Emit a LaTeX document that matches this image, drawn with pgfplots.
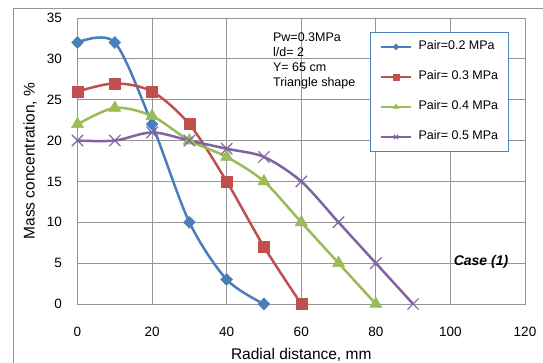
\documentclass[border=0pt]{standalone}
\usepackage{fontspec}
\setmainfont{Liberation Sans}
\usepackage{pgfplots}
\pgfplotsset{compat=1.18}
\definecolor{cblue}{HTML}{4A7EBB}
\definecolor{cred}{HTML}{C0504D}
\definecolor{cgreen}{HTML}{9BBB59}
\definecolor{cpurple}{HTML}{8064A2}
\definecolor{legblue}{HTML}{4F81BD}
\definecolor{gridgray}{HTML}{969696}
\pgfplotsset{mylegimg/.style={legend image code/.code={\draw[##1, line width=1.2pt, mark size=3pt, mark repeat=2, mark phase=2] plot coordinates {(0pt,0pt) (15pt,0pt) (30pt,0pt)};}}}
\begin{document}
\begin{tikzpicture}
\path[use as bounding box] (-77.5pt,-59pt) rectangle (465.5pt,304pt);
\draw[gridgray, line width=0.8pt] (-64.5pt,-70pt) -- (-64.5pt,296pt) -- (470pt,296pt);
\begin{axis}[
  scale only axis,
  width=447.5pt, height=286pt,
  xmin=0, xmax=120, ymin=0, ymax=35,
  xtick={0,20,...,120}, ytick={0,5,...,35},
  grid=major,
  major grid style={gridgray, line width=0.8pt},
  axis line style={gridgray, line width=0.8pt},
  major tick length=0pt,
  clip=false,
  /pgf/number format/assume math mode=true,
  tick label style={font=\fontsize{13.5}{15}\selectfont},
  yticklabel style={anchor=east, inner sep=0pt, xshift=-15.5pt},
  xticklabel style={anchor=north, inner sep=0pt, yshift=-23pt},
  xlabel={Radial distance, mm},
  ylabel={Mass concentration, \%},
  label style={font=\fontsize{15.5}{17}\selectfont},
  xlabel style={at={(axis description cs:0.5,-0.178)}, anchor=center, inner sep=0pt},
  ylabel style={at={(axis description cs:-0.106,0.5)}, anchor=center, inner sep=0pt},
  legend style={at={(rel axis cs:0.6536,0.951)}, anchor=north west,
    draw=legblue, line width=0.8pt, fill=white,
    font=\fontsize{12.5}{14}\selectfont,
    inner xsep=10pt, inner ysep=8.5pt, row sep=18pt,
    nodes={inner sep=0pt, text height=9pt, text depth=3pt},
    /tikz/every odd column/.append style={column sep=7pt}},
  legend cell align=left,
  mylegimg,
]
\addplot[cblue, line width=2.5pt, smooth, tension=0.5, mark=diamond*, mark size=6pt, mark options={solid, fill=cblue, xscale=1.3, line width=0.5pt}]
  coordinates {(0,32) (10,32) (20,22) (30,10) (40,3) (50,0)};
\addlegendentry{Pair=0.2 MPa}
\addplot[cred, line width=2.5pt, smooth, tension=0.5, mark=square*, mark size=5.5pt, mark options={solid, fill=cred, line width=0.5pt}]
  coordinates {(0,26) (10,27) (20,26) (30,22) (40,15) (50,7) (60,0)};
\addlegendentry{Pair= 0.3 MPa}
\addplot[cgreen, line width=2.5pt, smooth, tension=0.5, mark=triangle*, mark size=7pt, mark options={solid, fill=cgreen, line width=0.5pt}]
  coordinates {(0,22) (10,24) (20,23) (30,20) (40,18) (50,15) (60,10) (70,5) (80,0)};
\addlegendentry{Pair= 0.4 MPa}
\addplot[cpurple, line width=2.5pt, smooth, tension=0.5, mark=x, mark size=8pt, mark options={solid, line width=1.2pt}]
  coordinates {(0,20) (10,20) (20,21) (30,20) (40,19) (50,18) (60,15) (70,10) (80,5) (90,0)};
\addlegendentry{Pair= 0.5 MPa}
\node[anchor=north west, align=left, inner sep=0pt, font=\fontsize{12.5}{15}\selectfont] at (axis cs:52.4,33.2) {Pw=0.3MPa\\l/d= 2\\Y= 65 cm\\Triangle shape};
\node[font=\fontsize{14}{15}\selectfont\bfseries\itshape] at (axis cs:108.2,5.1) {Case (1)};
\end{axis}
\end{tikzpicture}
\end{document}
